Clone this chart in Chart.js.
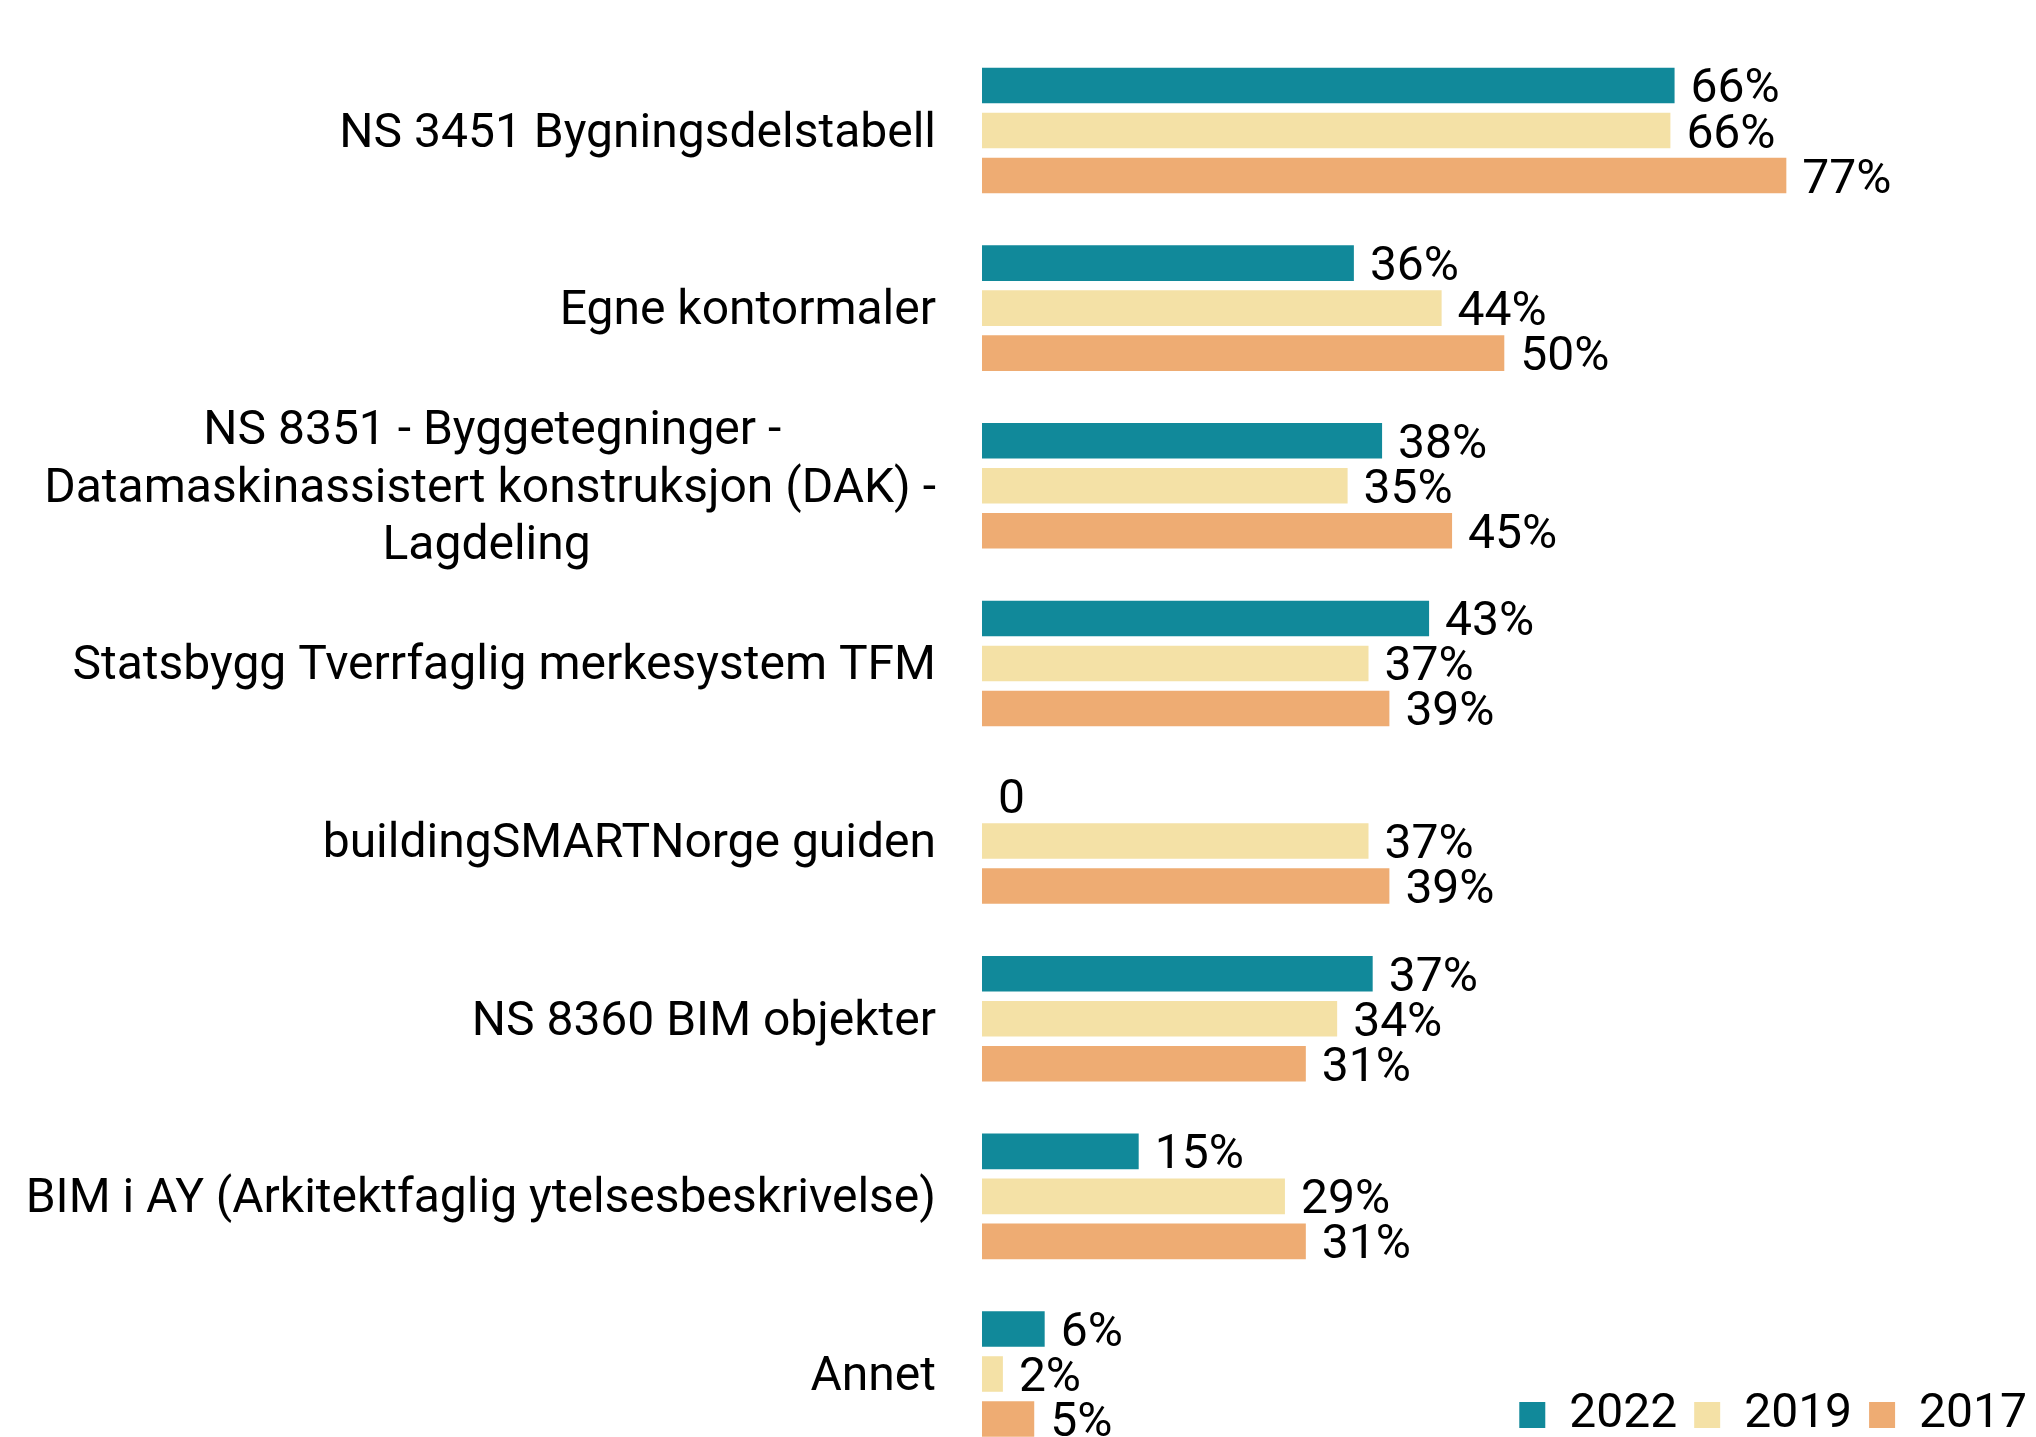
<!DOCTYPE html>
<html>
<head>
<meta charset="utf-8">
<script src="https://cdn.jsdelivr.net/npm/chart.js@4"></script>
<style>
    body { margin: 0; background: #fff; }
    canvas { display: block; }
</style>
</head>
<body>
<canvas id="chart" width="2036" height="1437"></canvas>
<script>
const categories = [
    'NS 3451 Bygningsdelstabell',
    'Egne kontormaler',
    ['NS 8351 - Byggetegninger -', 'Datamaskinassistert konstruksjon (DAK) -', 'Lagdeling'],
    'Statsbygg Tverrfaglig merkesystem TFM',
    'buildingSMARTNorge guiden',
    'NS 8360 BIM objekter',
    'BIM i AY (Arkitektfaglig ytelsesbeskrivelse)',
    'Annet'
];

const years = ['2022', '2019', '2017'];
const values2022 = [66.3, 35.6, 38.3, 42.8, 0, 37.4, 15, 6];
const values2019 = [65.9, 44, 35, 37, 37, 34, 29, 2];
const values2017 = [77, 50, 45, 39, 39, 31, 31, 5];

const FONT = 'Roboto';
const FONT_SIZE = 48;

// centre the lines of a multi-line label inside its own block
const measureCtx = document.createElement('canvas').getContext('2d');
measureCtx.font = FONT_SIZE + 'px ' + FONT;

function centreLines(label) {
    if (!Array.isArray(label)) {
        return label;
    }
    const widest = Math.max(...label.map(l => measureCtx.measureText(l).width));
    const space = measureCtx.measureText(' ').width;
    return label.map(l => {
        const n = Math.round((widest - measureCtx.measureText(l).width) / 2 / space);
        return l + ' '.repeat(n);
    });
}

function barDataset(label, data, color) {
    return {
        label: label,
        data: data,
        backgroundColor: color,
        borderWidth: 0,
        clip: false,
        barPercentage: 0.79,
        categoryPercentage: 0.76
    };
}

const valueLabels = {
    id: 'valueLabels',
    afterDatasetsDraw(chart) {
        const ctx = chart.ctx;
        ctx.save();
        ctx.font = FONT_SIZE + 'px ' + FONT;
        ctx.fillStyle = '#000';
        ctx.textAlign = 'left';
        ctx.textBaseline = 'middle';
        chart.data.datasets.forEach((ds, i) => {
            chart.getDatasetMeta(i).data.forEach((bar, j) => {
                const v = ds.data[j];
                const text = v === 0 ? '0' : Math.round(v) + '%';
                ctx.fillText(text, bar.x + 16, bar.y + 5);
            });
        });
        ctx.restore();
    }
};

new Chart(document.getElementById('chart'), {
    type: 'bar',
    data: {
        labels: categories.map(centreLines),
        datasets: [
            barDataset(years[0], values2022, '#11899a'),
            barDataset(years[1], values2019, '#f4e1a6'),
            barDataset(years[2], values2017, '#eeac73')
        ]
    },
    options: {
        indexAxis: 'y',
        responsive: false,
        animation: false,
        layout: {
            padding: { top: 130.5, right: -8, bottom: 0, left: 0 }
        },
        plugins: {
            legend: {
                position: 'bottom',
                align: 'end',
                maxHeight: 63,
                labels: {
                    boxWidth: 26,
                    boxHeight: 26,
                    padding: 17,
                    color: '#000',
                    font: { family: FONT, size: FONT_SIZE }
                }
            },
            tooltip: { enabled: false }
        },
        scales: {
            x: {
                display: false,
                min: 0,
                max: 100.9
            },
            y: {
                offset: false,
                grid: { display: false, drawTicks: true, tickLength: 46 },
                border: { display: false },
                ticks: {
                    autoSkip: false,
                    padding: 0,
                    labelOffset: 4,
                    color: '#000',
                    font: { family: FONT, size: FONT_SIZE, lineHeight: 1.2 }
                },
                afterFit(scale) {
                    scale.width = 982;
                }
            }
        }
    },
    plugins: [valueLabels]
});
</script>
</body>
</html>
